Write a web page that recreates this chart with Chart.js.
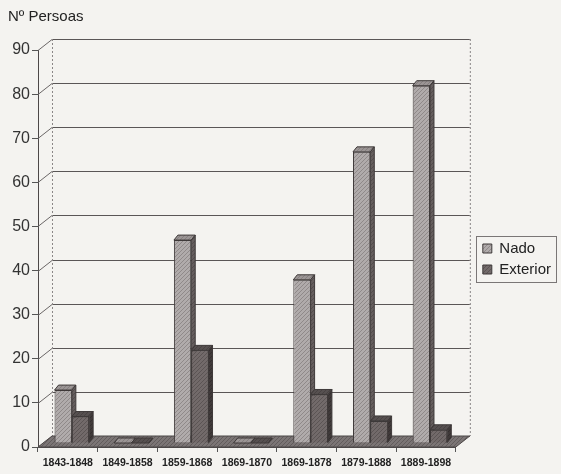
<!DOCTYPE html>
<html>
<head>
<meta charset="utf-8">
<script src="https://cdn.jsdelivr.net/npm/chart.js@4"></script>
<style>
    html, body { margin: 0; padding: 0; background: #f4f3f0; }
    #wrap { width: 561px; height: 474px; }
</style>
</head>
<body>
<div id="wrap"><canvas id="chart" width="561" height="474"></canvas></div>
<script>
const categories = ['1843-1848', '1849-1858', '1859-1868', '1869-1870', '1869-1878', '1879-1888', '1889-1898'];
const nado = [12, 0, 46, 0, 37, 66, 81];
const exterior = [6, 0, 21, 0, 11, 5, 3];
const yMax = 90;
const yStep = 10;

// 3d look: wall offset, bar shift, bar depth
const WALL = { dx: 14, dy: 11 };
const SHIFT = { dx: 4, dy: -4 };
const DEPTH = { dx: 4, dy: 5 };

function hatch(base, stripe) {
    const c = document.createElement('canvas');
    c.width = 4; c.height = 4;
    const g = c.getContext('2d');
    g.fillStyle = base;
    g.fillRect(0, 0, 4, 4);
    g.strokeStyle = stripe;
    g.lineWidth = 1;
    g.beginPath(); g.moveTo(0, 4); g.lineTo(4, 0); g.stroke();
    return g.createPattern(c, 'repeat');
}

const faces = [
    { front: hatch('#b0abab', '#8f8989'), top: hatch('#9b9595', '#857f7f'), side: hatch('#655e5e', '#534d4d') },
    { front: hatch('#726a6a', '#5b5454'), top: hatch('#565050', '#484242'), side: hatch('#403a3a', '#342f2f') }
];

function poly(ctx, pts, fill, stroke) {
    ctx.beginPath();
    ctx.moveTo(pts[0][0], pts[0][1]);
    for (let i = 1; i < pts.length; i++) ctx.lineTo(pts[i][0], pts[i][1]);
    ctx.closePath();
    ctx.fillStyle = fill;
    ctx.fill();
    if (stroke) { ctx.strokeStyle = stroke; ctx.lineWidth = 1; ctx.stroke(); }
}

function barFaces(ctx, bar, f) {
    const { x, y, base, width } = bar.getProps(['x', 'y', 'base', 'width'], true);
    const l = x - width / 2, r = x + width / 2;
    poly(ctx, [[l, y], [l + DEPTH.dx, y - DEPTH.dy], [r + DEPTH.dx, y - DEPTH.dy], [r, y]], f.top, '#3e3939');
    poly(ctx, [[r, y], [r + DEPTH.dx, y - DEPTH.dy], [r + DEPTH.dx, base - DEPTH.dy], [r, base]], f.side, '#3e3939');
}

const fake3d = {
    id: 'fake3d',
    afterLayout(chart) {
        // legend sits a bit lower than centre in the original
        chart.legend.top += 22;
        chart.legend.bottom += 22;
    },
    beforeDatasetsDraw(chart) {
        const { ctx, chartArea: a, scales: { y } } = chart;
        ctx.save();
        ctx.lineWidth = 1;
        y.ticks.forEach(t => {
            const py = Math.round(y.getPixelForValue(t.value)) + 0.5;
            ctx.strokeStyle = '#5a5656';
            ctx.beginPath();
            ctx.moveTo(a.left + WALL.dx, py - WALL.dy);
            ctx.lineTo(a.right + WALL.dx, py - WALL.dy);
            ctx.stroke();
            ctx.strokeStyle = '#6a6666';
            ctx.beginPath();
            ctx.moveTo(a.left, py);
            ctx.lineTo(a.left + WALL.dx, py - WALL.dy);
            ctx.stroke();
        });
        ctx.setLineDash([2, 2]);
        ctx.strokeStyle = '#8a8686';
        [a.left + WALL.dx + 0.5, a.right + WALL.dx + 0.5].forEach(px => {
            ctx.beginPath();
            ctx.moveTo(px, a.top - WALL.dy);
            ctx.lineTo(px, a.bottom - WALL.dy);
            ctx.stroke();
        });
        ctx.setLineDash([]);
        // floor
        poly(ctx, [
            [a.left, a.bottom], [a.right, a.bottom],
            [a.right + WALL.dx, a.bottom - WALL.dy], [a.left + WALL.dx, a.bottom - WALL.dy]
        ], hatch('#7b7575', '#625c5c'), '#4d4848');
        ctx.restore();
        ctx.save();
        ctx.translate(SHIFT.dx, SHIFT.dy);
    },
    afterDatasetsDraw(chart) {
        const { ctx } = chart;
        const nadoBars = chart.getDatasetMeta(0).data;
        const extBars = chart.getDatasetMeta(1).data;
        // per category: Nado faces, then Exterior again on top of the Nado side
        nadoBars.forEach((bar, i) => {
            barFaces(ctx, bar, faces[0]);
            extBars[i].draw(ctx);
            barFaces(ctx, extBars[i], faces[1]);
        });
        ctx.restore();
    },
    afterDraw(chart) {
        const { ctx, legend } = chart;
        const hb = legend.legendHitBoxes;
        if (!hb || !hb.length) return;
        const last = hb[hb.length - 1];
        const left = hb[0].left - 7;
        const right = Math.max(...hb.map(h => h.left + h.width)) + 5;
        const top = hb[0].top - 5;
        const bottom = last.top + last.height + 5;
        ctx.save();
        ctx.strokeStyle = '#7a7676';
        ctx.lineWidth = 1;
        ctx.strokeRect(Math.round(left) + 0.5, Math.round(top) + 0.5, Math.round(right - left), Math.round(bottom - top));
        ctx.restore();
    }
};

new Chart('chart', {
    type: 'bar',
    data: {
        labels: categories,
        datasets: [{
            label: 'Nado',
            data: nado,
            backgroundColor: faces[0].front,
            borderColor: '#3e3939',
            borderWidth: 1
        }, {
            label: 'Exterior',
            data: exterior,
            backgroundColor: faces[1].front,
            borderColor: '#3e3939',
            borderWidth: 1
        }]
    },
    options: {
        responsive: false,
        animation: false,
        layout: { padding: { left: 8, right: 0, top: 0, bottom: 0 } },
        categoryPercentage: 0.58,
        barPercentage: 1,
        plugins: {
            title: {
                display: true,
                text: 'Nº Persoas',
                align: 'start',
                color: '#222',
                font: { family: 'Liberation Sans, Arial, sans-serif', size: 15, weight: 'normal' },
                padding: { top: 8, bottom: 24 }
            },
            legend: {
                position: 'right',
                labels: {
                    color: '#222',
                    boxWidth: 9,
                    boxHeight: 9,
                    padding: 6,
                    font: { family: 'Liberation Sans, Arial, sans-serif', size: 15 }
                }
            },
            tooltip: { enabled: false }
        },
        scales: {
            x: {
                grid: { offset: true, drawOnChartArea: false, tickLength: 5, color: '#555' },
                border: { color: '#4d4848' },
                ticks: {
                    color: '#222',
                    padding: 5,
                    maxRotation: 0,
                    autoSkip: false,
                    font: { family: 'Liberation Sans, Arial, sans-serif', size: 10.5, weight: 'bold' }
                },
                afterFit: s => { s.height = 27; }
            },
            y: {
                min: 0,
                max: yMax,
                grid: { drawOnChartArea: false, tickLength: 6, color: '#555' },
                border: { color: '#4d4848' },
                ticks: {
                    stepSize: yStep,
                    color: '#333',
                    padding: 2,
                    font: { family: 'Liberation Sans, Arial, sans-serif', size: 16 }
                },
                afterFit: s => { s.width = 30; }
            },
            gap: {
                type: 'linear',
                position: 'right',
                display: true,
                grid: { display: false },
                border: { display: false },
                ticks: { display: false },
                afterFit: s => { s.width = 21; }
            }
        }
    },
    plugins: [fake3d]
});
</script>
</body>
</html>
